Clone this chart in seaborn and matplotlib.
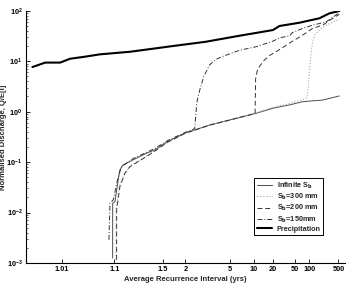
import numpy as np
import pandas as pd
import matplotlib
matplotlib.use("Agg")
import matplotlib.pyplot as plt
import seaborn as sns
from matplotlib.ticker import NullLocator, LogLocator
from statistics import NormalDist

sns.set_theme(style="ticks")
plt.rcParams['font.family'] = ['Liberation Sans', 'DejaVu Sans']
plt.rcParams['font.weight'] = 'bold'
plt.rcParams['mathtext.default'] = 'bf'

# average recurrence interval (yrs) and normalised discharge
ari_precip = [1.002, 1.0042, 1.0093, 1.0152, 1.0303, 1.057, 1.174, 1.683, 2.84, 6.45,
              20.0, 26.0, 45.0, 62.5, 85.0, 170.0, 294.0, 526.0]
q_precip = [7.67, 9.4, 9.4, 11.2, 12.3, 13.7, 15.4, 20.0, 24.3, 32.0,
            41.5, 50.0, 55.0, 58.0, 62.0, 71.0, 89.0, 99.0]

ari_inf = [1.0934, 1.0935, 1.1018, 1.1148, 1.1221, 1.1374, 1.1944, 1.3022, 1.393, 1.587,
           1.98, 2.32, 3.09, 4.93, 10.9, 20.0, 39.7, 73.0, 204.0, 526.0]
q_inf = [0.00125, 0.0153, 0.0165, 0.0445, 0.0701, 0.0881, 0.111, 0.150, 0.175, 0.255,
         0.373, 0.435, 0.546, 0.685, 0.929, 1.17, 1.36, 1.58, 1.70, 2.05]

ari_300 = [1.106, 1.1061, 1.12, 1.146, 1.18, 1.30, 1.393, 1.587, 1.98, 3.08,
           4.93, 10.9, 20.0, 40.0, 73.0, 90.0, 96.0, 101.0, 108.0, 117.0,
           130.0, 170.0, 245.0, 526.0]
q_300 = [0.0012, 0.012, 0.034, 0.062, 0.085, 0.13, 0.168, 0.25, 0.37, 0.54,
         0.68, 0.95, 1.22, 1.45, 1.75, 1.9, 3.0, 6.0, 12.0, 22.0,
         32.0, 42.0, 52.0, 68.0]

ari_200 = [1.1083, 1.1084, 1.1221, 1.146, 1.1737, 1.3022, 1.393, 1.587, 1.98, 3.08,
           4.93, 10.5, 10.6, 10.7, 11.3, 12.3, 14.5, 17.6, 26.0, 40.0,
           62.0, 73.0, 120.0, 204.0, 356.0, 526.0]
q_200 = [0.00116, 0.0113, 0.0327, 0.0603, 0.0815, 0.129, 0.165, 0.25, 0.37, 0.54,
         0.68, 0.92, 2.0, 4.5, 6.5, 8.0, 10.5, 13.0, 17.0, 23.0,
         30.0, 33.0, 45.0, 52.0, 71.0, 85.0]

ari_150 = [1.0812, 1.0844, 1.0956, 1.1148, 1.1298, 1.20, 1.39, 1.59, 2.0, 2.32,
           2.36, 2.40, 2.45, 2.54, 2.73, 3.08, 3.57, 4.16, 6.49, 10.9,
           20.0, 26.0, 40.0, 45.0, 62.0, 73.0, 120.0, 245.0, 526.0]
q_150 = [0.00288, 0.0153, 0.0178, 0.0516, 0.0815, 0.12, 0.185, 0.27, 0.39, 0.46,
         0.8, 1.4, 1.9, 2.7, 4.9, 8.5, 11.0, 12.5, 16.5, 19.4,
         25.0, 29.0, 32.0, 37.0, 42.0, 45.0, 52.0, 60.0, 92.0]

xtick_vals = [1.01, 1.1, 1.5, 2, 5, 10, 20, 50, 100, 500]
xtick_labels = ['1.01', '1.1', '1.5', '2', '5', '10', '20', '50', '100', '500']

nd = NormalDist()
_ppf = np.vectorize(nd.inv_cdf, otypes=[float])
_cdf = np.vectorize(nd.cdf, otypes=[float])


def fwd(t):
    t = np.asarray(t, dtype=float)
    p = 1.0 - 1.0 / np.where(t > 1.0, t, 1.0 + 1e-12)
    p = np.clip(p, 1e-12, 1 - 1e-12)
    return _ppf(p)


def inv(z):
    z = np.clip(np.asarray(z, dtype=float), -7, 7)
    return 1.0 / np.clip(1.0 - _cdf(z), 1e-15, None)


fig = plt.figure(figsize=(3.46, 2.84), dpi=100)
ax = fig.add_axes([0.075, 0.074, 0.922, 0.888])
ax.set_xscale('function', functions=(fwd, inv))
ax.set_yscale('log')

series = [
    (ari_inf, q_inf, 'Infinite S$_\\mathbf{b}$', '#4d4d4d', '-', 0.7),
    (ari_300, q_300, 'S$_\\mathbf{b}$=300 mm', '#a6a6a6', ':', 0.8),
    (ari_200, q_200, 'S$_\\mathbf{b}$=200 mm', '#333333', (0, (5, 3)), 0.7),
    (ari_150, q_150, 'S$_\\mathbf{b}$=150mm', '#333333', (0, (5, 2, 1, 2)), 0.7),
    (ari_precip, q_precip, 'Precipitation', 'black', '-', 1.5),
]
for x, y, lab, col, ls, lw in series:
    df = pd.DataFrame({'ari': x, 'q': y})
    sns.lineplot(data=df, x='ari', y='q', ax=ax, color=col, linestyle=ls,
                 linewidth=lw, label=lab, estimator=None, sort=False)

ax.set_xlim(float(inv(-3.0)), float(inv(3.0)))
ax.set_ylim(1e-3, 1e2)
ax.set_xticks(xtick_vals)
ax.set_xticklabels(xtick_labels)
ax.xaxis.set_minor_locator(NullLocator())
ax.yaxis.set_major_locator(LogLocator(base=10, numticks=10))
ax.yaxis.set_minor_locator(LogLocator(base=10, subs=np.arange(2, 10), numticks=10))

for s in ['top', 'right']:
    ax.spines[s].set_visible(False)
for s in ['left', 'bottom']:
    ax.spines[s].set_color('black')
    ax.spines[s].set_linewidth(0.8)
ax.tick_params(axis='both', which='major', direction='in', length=3, width=0.6,
               labelsize=5.3, colors='black', pad=2.5)
ax.tick_params(axis='y', which='minor', direction='in', length=1.6, width=0.5)

ax.set_xlabel('Average Recurrence Interval (yrs)', fontsize=5.5, fontweight='bold')
ax.set_ylabel('Normalised Discharge, Q/E[i]', fontsize=5.5, fontweight='bold')
ax.xaxis.set_label_coords(0.5, -0.052)
ax.yaxis.set_label_coords(-0.058, 0.5)
ax.grid(False)

leg = ax.legend(loc='lower right', bbox_to_anchor=(0.931, 0.111), fontsize=5.2,
                frameon=True, fancybox=False, edgecolor='black', framealpha=1,
                handlelength=2.2, borderpad=0.3, labelspacing=0.15, handletextpad=0.6,
                borderaxespad=0)
leg.get_frame().set_linewidth(0.7)

fig.savefig('out.png', dpi=100)
